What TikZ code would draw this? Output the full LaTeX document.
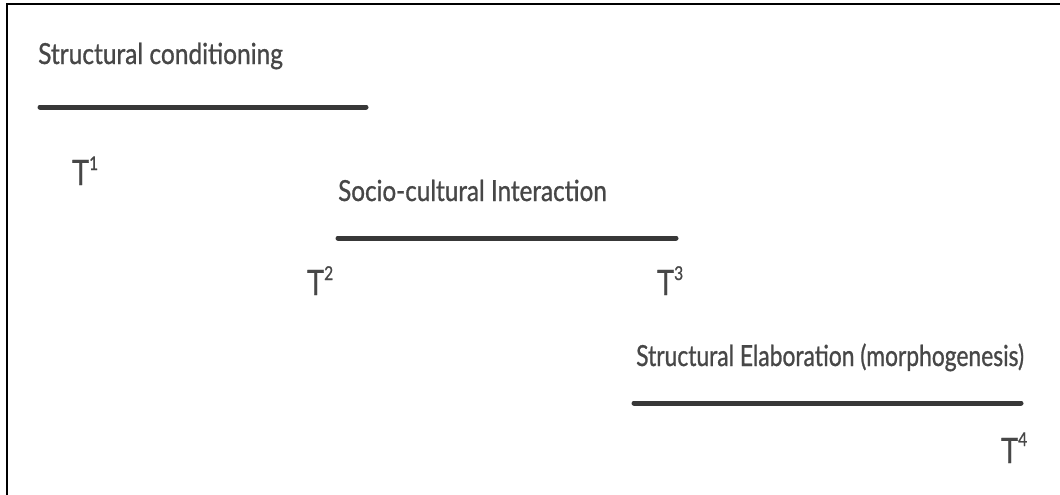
\documentclass[tikz,border=0pt]{standalone}
\usepackage{fontspec}
\setmainfont{Lato}[FakeStretch=0.82]
\newfontface\lblfont{Lato}[FakeStretch=0.82,FakeBold=0.9]
\begin{document}
\begin{tikzpicture}[x=1pt,y=-1pt,
  lbl/.style={inner sep=0pt, anchor=base west, text=black!72, font=\lblfont\fontsize{29}{34}\selectfont},
  tlbl/.style={inner sep=0pt, anchor=base west, text=black!72, font=\lblfont\fontsize{35}{40}\selectfont},
  bar/.style={line width=5pt, draw=black!78, line cap=round},
  frame/.style={line width=2pt, draw=black}]
\useasboundingbox (0,0) rectangle (1060,495);
% frame (top and left only)
\coordinate (fbl) at (7,497);
\coordinate (ftl) at (7,4);
\coordinate (ftr) at (1062,4);
\draw[frame] (fbl) -- (ftl) -- (ftr);
% labels
\node[lbl] (sc) at (38,64) {\scalebox{1.03}[1]{Structural conditioning}};
\node[lbl] (si) at (338,201) {\scalebox{1.02}[1]{Socio-cultural Interaction}};
\node[lbl] (se) at (636,366) {\scalebox{0.96}[1]{Structural Elaboration (morphogenesis)}};
% bars
\coordinate (b1a) at (40,107);  \coordinate (b1b) at (366,107);
\coordinate (b2a) at (338,238); \coordinate (b2b) at (676,238);
\coordinate (b3a) at (634,403); \coordinate (b3b) at (1021,403);
\draw[bar] (b1a) -- (b1b);
\draw[bar] (b2a) -- (b2b);
\draw[bar] (b3a) -- (b3b);
% time points
\node[tlbl] (t1) at (72,185) {T\raisebox{15pt}{\fontsize{19}{20}\selectfont 1}};
\node[tlbl] (t2) at (307,295) {T\raisebox{15pt}{\fontsize{19}{20}\selectfont 2}};
\node[tlbl] (t3) at (657,295) {T\raisebox{15pt}{\fontsize{19}{20}\selectfont 3}};
\node[tlbl] (t4) at (1001,463) {T\raisebox{17pt}{\fontsize{19}{20}\selectfont 4}};
\end{tikzpicture}
\end{document}
